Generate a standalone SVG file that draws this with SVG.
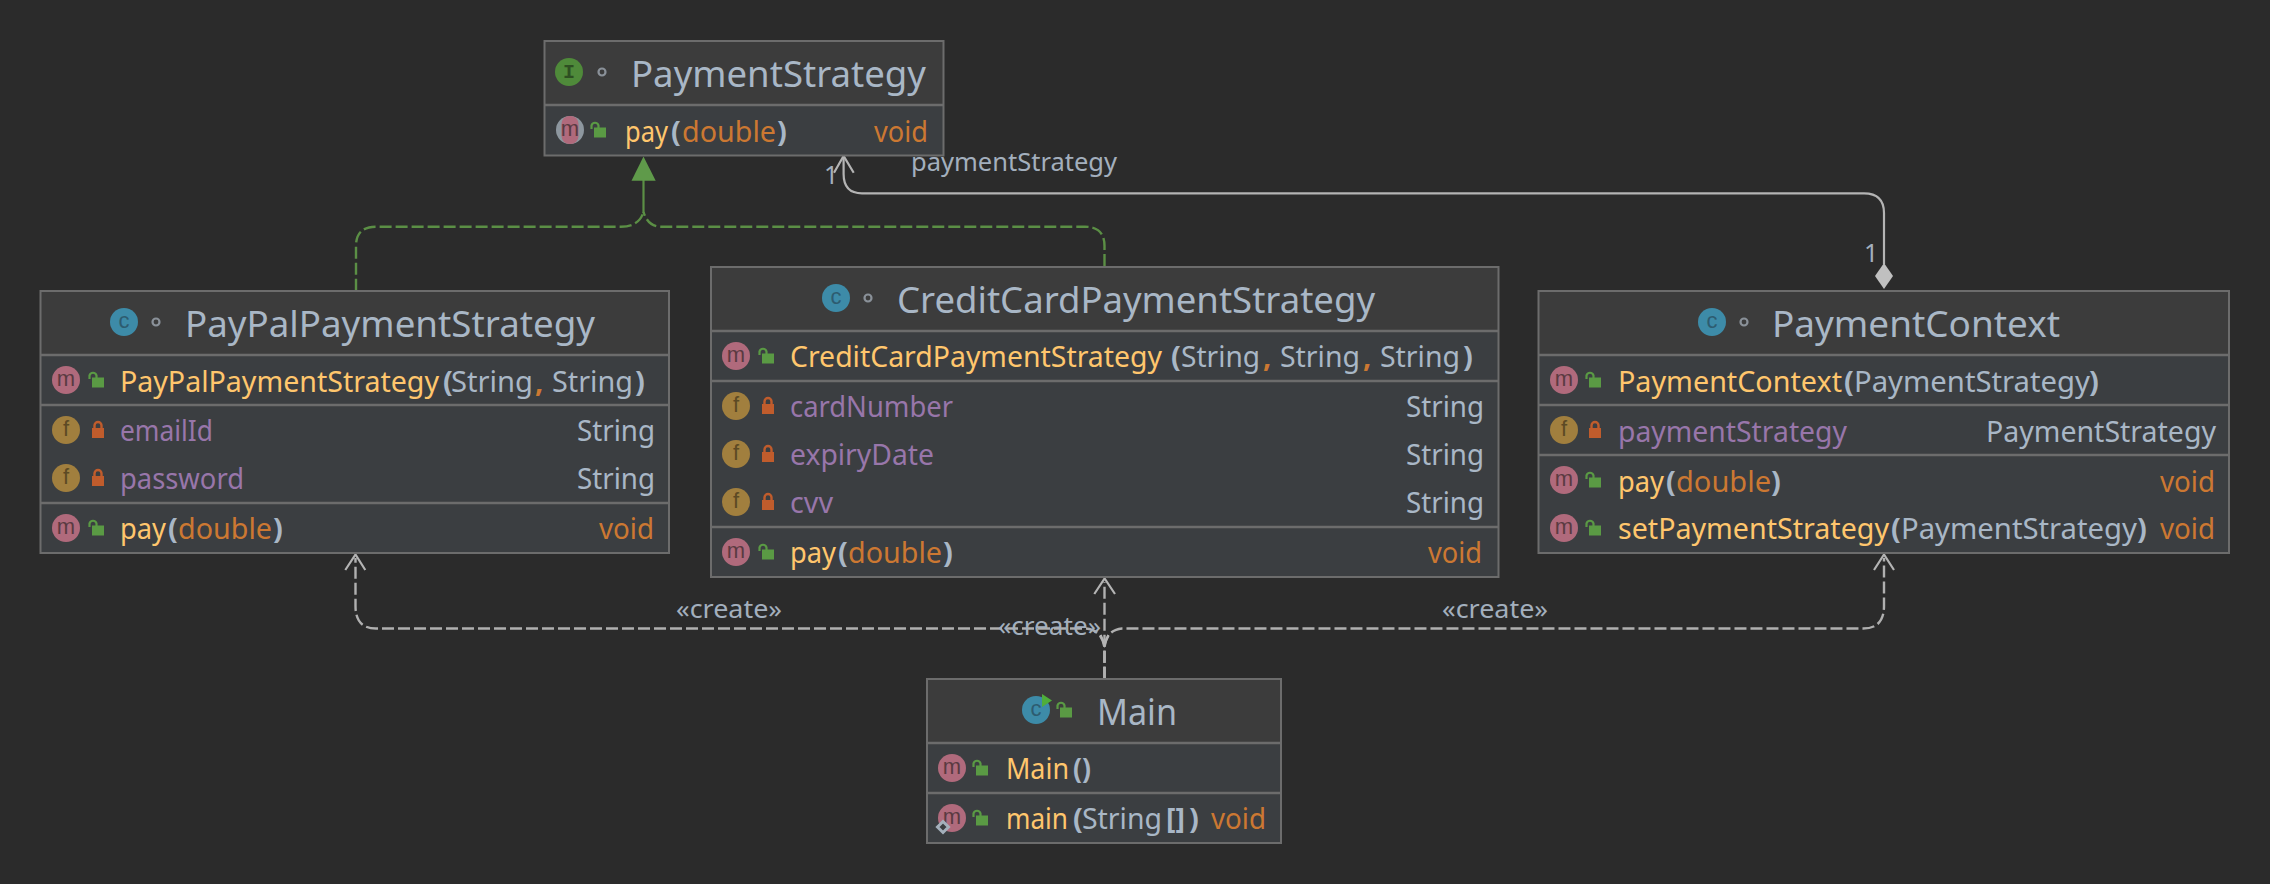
<svg xmlns="http://www.w3.org/2000/svg" width="2270" height="884" viewBox="0 0 2270 884">
<style>
text{font-family:"Noto Sans","Open Sans","Liberation Sans",sans-serif;font-size:29px}
.t{font-size:36px;fill:#a9b7c6}
.m{fill:#ffc66d}.p{fill:#a9b7c6}.k{fill:#cc7832}.f{fill:#9876aa}
.t,.m,.p,.k,.f{transform:translateX(-1px)}
.b{font-weight:700}
.l{font-size:25px;fill:#a3afbd}
.h{fill:#3c3c3c;stroke:none}
.body{fill:#3b3e41;stroke:none}
.o{fill:none;stroke:#6c6c6c;stroke-width:2}
.d{stroke:#6c6c6c;stroke-width:2.5}
.ic{font-family:"Liberation Sans",sans-serif;font-size:22px;text-anchor:middle}
.im{font-family:"Liberation Mono",monospace;font-weight:700}
.dep{fill:none;stroke:#b0b0b0;stroke-width:2.4;stroke-dasharray:12 4}
.asc{fill:none;stroke:#b4b4b4;stroke-width:2.2}
.rea{fill:none;stroke:#5b8f45;stroke-width:2.4;stroke-dasharray:12 4}
</style>
<defs>
<g id="lo"><rect x="-6" y="-2.5" width="12" height="10" fill="#5a9a44"/><path d="M-8.5 -1V-4.5A3.6 3.6 0 0 1 -1.5 -4.5V-2" fill="none" stroke="#5a9a44" stroke-width="2.2"/></g>
<g id="lc"><rect x="-6" y="-2" width="12" height="10" fill="#c05c2c"/><path d="M-3.5 -2V-4.5A3.5 3.5 0 0 1 3.5 -4.5V-2" fill="none" stroke="#c05c2c" stroke-width="2.4"/></g>
<circle id="cm" r="14" fill="#b06a7c"/>
<circle id="cf" r="14" fill="#a17f3e"/>
<circle id="cc" r="14" fill="#3d8ba8"/>
<circle id="dot" r="3.5" fill="none" stroke="#8a9199" stroke-width="2.2"/>
</defs>
<rect width="2270" height="884" fill="#2b2b2b"/>

<g id="connectors">
<path class="rea" d="M356 290.7V246Q356 226.7 376 226.7H621Q639 226.7 643.5 212"/>
<path class="rea" d="M1104.5 266V246Q1104.5 226.7 1085 226.7H661Q648 226.7 643.5 212"/>
<path d="M643.5 213V180" fill="none" stroke="#5b8f45" stroke-width="2.2"/>
<polygon points="643.5,156.5 631.5,180.7 655.7,180.7" fill="#5f9a4a"/>
<path class="asc" d="M1884 264V213Q1884 193.3 1864 193.3H862Q843.6 193.3 843.6 174V157"/>
<path class="asc" d="M834 172.7L843.6 156L853.7 172.7"/>
<polygon points="1884,263 1893,276 1884,289 1875,276" fill="#c0c0c0"/>
<path class="dep" d="M1104.5 678.7V648Q1102 630 1086 628.5H376Q355.5 628.5 355.5 606V558"/>
<path class="dep" d="M1104.5 678.7V648Q1106 630 1122 628.5H1863Q1884 628.5 1884 606V558"/>
<path class="dep" d="M1104.5 678.7V582"/>
<path class="asc" d="M345.3 570L355.5 554.5L365.3 570M1094.3 594L1104.6 578.5L1115 594M1874 570L1884 554.5L1894 570"/>
<path class="asc" d="M1100.7 635L1104.5 645L1108.3 635"/>
</g>

<g id="labels">
<text class="l" x="911" y="171" textLength="206" lengthAdjust="spacingAndGlyphs">paymentStrategy</text>
<text class="l" x="824" y="184">1</text>
<text class="l" x="1864" y="262">1</text>
<text class="l" x="676" y="618" textLength="106" lengthAdjust="spacingAndGlyphs">«create»</text>
<text class="l" x="998" y="635" textLength="103" lengthAdjust="spacingAndGlyphs">«create»</text>
<text class="l" x="1442" y="618" textLength="106" lengthAdjust="spacingAndGlyphs">«create»</text>
</g>

<g id="node-PaymentStrategy">
<rect class="h" x="544.5" y="41" width="399" height="64"/><rect class="body" x="544.5" y="105" width="399" height="50"/>
<path class="d" d="M545 105H943"/><rect class="o" x="544.5" y="41" width="399" height="114.5"/>
<circle cx="569" cy="72" r="14" fill="#4f8a3a"/><text class="ic im" x="569" y="78" fill="#2e4f22" style="font-family:'Liberation Mono',monospace;font-size:20px">I</text>
<use href="#dot" x="602" y="72"/>
<text class="t" x="632" y="87" textLength="295" lengthAdjust="spacingAndGlyphs">PaymentStrategy</text>
<circle cx="570" cy="130" r="14" fill="#8d979f"/><rect x="561.5" y="116" width="17" height="28" rx="8" fill="#b06a7c"/>
<text class="ic" x="570" y="136" fill="#5a3a42">m</text>
<use href="#lo" x="600" y="130"/>
<text class="m" x="626" y="142" textLength="43" lengthAdjust="spacingAndGlyphs">pay</text>
<text class="p b" x="672" y="142">(</text>
<text class="k" x="683" y="142" textLength="94" lengthAdjust="spacingAndGlyphs">double</text>
<text class="p b" x="778" y="142">)</text>
<text class="k" x="875" y="142" textLength="54" lengthAdjust="spacingAndGlyphs">void</text>
</g>

<g id="node-PayPalPaymentStrategy">
<rect class="h" x="40.5" y="291" width="628.5" height="64"/><rect class="body" x="40.5" y="355" width="628.5" height="198"/>
<path class="d" d="M41 355H669M41 405H669M41 503H669"/><rect class="o" x="40.5" y="291" width="628.5" height="262"/>
<use href="#cc" x="124" y="322"/><text class="ic" x="124" y="328" fill="#2d5c70">c</text>
<use href="#dot" x="156" y="322"/>
<text class="t" x="186" y="337" textLength="410" lengthAdjust="spacingAndGlyphs">PayPalPaymentStrategy</text>
<use href="#cm" x="66" y="380"/><text class="ic" x="66" y="386" fill="#5a3a42">m</text><use href="#lo" x="98" y="380"/>
<text class="m" x="121" y="392" textLength="319" lengthAdjust="spacingAndGlyphs">PayPalPaymentStrategy</text>
<text class="p b" x="444" y="392">(</text>
<text class="p" x="452" y="392" textLength="82" lengthAdjust="spacingAndGlyphs">String</text>
<text class="k b" x="536" y="392">,</text>
<text class="p" x="553" y="392" textLength="81" lengthAdjust="spacingAndGlyphs">String</text>
<text class="p b" x="636" y="392">)</text>
<use href="#cf" x="66" y="430"/><text class="ic" x="66" y="436" fill="#5c4a24">f</text><use href="#lc" x="98" y="430"/>
<text class="f" x="121" y="441" textLength="93" lengthAdjust="spacingAndGlyphs">emailId</text>
<text class="p" x="578" y="441" textLength="78" lengthAdjust="spacingAndGlyphs">String</text>
<use href="#cf" x="66" y="478"/><text class="ic" x="66" y="484" fill="#5c4a24">f</text><use href="#lc" x="98" y="478"/>
<text class="f" x="121" y="489" textLength="124" lengthAdjust="spacingAndGlyphs">password</text>
<text class="p" x="578" y="489" textLength="78" lengthAdjust="spacingAndGlyphs">String</text>
<use href="#cm" x="66" y="528"/><text class="ic" x="66" y="534" fill="#5a3a42">m</text><use href="#lo" x="98" y="528"/>
<text class="m" x="121" y="539" textLength="46" lengthAdjust="spacingAndGlyphs">pay</text>
<text class="p b" x="169" y="539">(</text>
<text class="k" x="179" y="539" textLength="94" lengthAdjust="spacingAndGlyphs">double</text>
<text class="p b" x="274" y="539">)</text>
<text class="k" x="600" y="539" textLength="55" lengthAdjust="spacingAndGlyphs">void</text>
</g>

<g id="node-CreditCardPaymentStrategy">
<rect class="h" x="711" y="267" width="787.5" height="64"/><rect class="body" x="711" y="331" width="787.5" height="246"/>
<path class="d" d="M711 331H1498M711 381H1498M711 527H1498"/><rect class="o" x="711" y="267" width="787.5" height="310"/>
<use href="#cc" x="836" y="298"/><text class="ic" x="836" y="304" fill="#2d5c70">c</text>
<use href="#dot" x="868" y="298"/>
<text class="t" x="898" y="313" textLength="478" lengthAdjust="spacingAndGlyphs">CreditCardPaymentStrategy</text>
<use href="#cm" x="736" y="356"/><text class="ic" x="736" y="362" fill="#5a3a42">m</text><use href="#lo" x="768" y="356"/>
<text class="m" x="791" y="367" textLength="372" lengthAdjust="spacingAndGlyphs">CreditCardPaymentStrategy</text>
<text class="p b" x="1172" y="367">(</text>
<text class="p" x="1182" y="367" textLength="79" lengthAdjust="spacingAndGlyphs">String</text>
<text class="k b" x="1264" y="367">,</text>
<text class="p" x="1281" y="367" textLength="80" lengthAdjust="spacingAndGlyphs">String</text>
<text class="k b" x="1364" y="367">,</text>
<text class="p" x="1381" y="367" textLength="80" lengthAdjust="spacingAndGlyphs">String</text>
<text class="p b" x="1464" y="367">)</text>
<use href="#cf" x="736" y="406"/><text class="ic" x="736" y="412" fill="#5c4a24">f</text><use href="#lc" x="768" y="406"/>
<text class="f" x="791" y="417" textLength="163" lengthAdjust="spacingAndGlyphs">cardNumber</text>
<text class="p" x="1407" y="417" textLength="78" lengthAdjust="spacingAndGlyphs">String</text>
<use href="#cf" x="736" y="454"/><text class="ic" x="736" y="460" fill="#5c4a24">f</text><use href="#lc" x="768" y="454"/>
<text class="f" x="791" y="465" textLength="144" lengthAdjust="spacingAndGlyphs">expiryDate</text>
<text class="p" x="1407" y="465" textLength="78" lengthAdjust="spacingAndGlyphs">String</text>
<use href="#cf" x="736" y="502"/><text class="ic" x="736" y="508" fill="#5c4a24">f</text><use href="#lc" x="768" y="502"/>
<text class="f" x="791" y="513" textLength="43" lengthAdjust="spacingAndGlyphs">cvv</text>
<text class="p" x="1407" y="513" textLength="78" lengthAdjust="spacingAndGlyphs">String</text>
<use href="#cm" x="736" y="552"/><text class="ic" x="736" y="558" fill="#5a3a42">m</text><use href="#lo" x="768" y="552"/>
<text class="m" x="791" y="563" textLength="46" lengthAdjust="spacingAndGlyphs">pay</text>
<text class="p b" x="839" y="563">(</text>
<text class="k" x="849" y="563" textLength="94" lengthAdjust="spacingAndGlyphs">double</text>
<text class="p b" x="944" y="563">)</text>
<text class="k" x="1429" y="563" textLength="54" lengthAdjust="spacingAndGlyphs">void</text>
</g>

<g id="node-PaymentContext">
<rect class="h" x="1538.5" y="291" width="690.5" height="64"/><rect class="body" x="1538.5" y="355" width="690.5" height="198"/>
<path class="d" d="M1539 355H2229M1539 405H2229M1539 455H2229"/><rect class="o" x="1538.5" y="291" width="690.5" height="262"/>
<use href="#cc" x="1712" y="322"/><text class="ic" x="1712" y="328" fill="#2d5c70">c</text>
<use href="#dot" x="1744" y="322"/>
<text class="t" x="1773" y="337" textLength="288" lengthAdjust="spacingAndGlyphs">PaymentContext</text>
<use href="#cm" x="1564" y="380"/><text class="ic" x="1564" y="386" fill="#5a3a42">m</text><use href="#lo" x="1595" y="380"/>
<text class="m" x="1619" y="392" textLength="224" lengthAdjust="spacingAndGlyphs">PaymentContext</text>
<text class="p b" x="1845" y="392">(</text>
<text class="p" x="1855" y="392" textLength="236" lengthAdjust="spacingAndGlyphs">PaymentStrategy</text>
<text class="p b" x="2090" y="392">)</text>
<use href="#cf" x="1564" y="430"/><text class="ic" x="1564" y="436" fill="#5c4a24">f</text><use href="#lc" x="1595" y="430"/>
<text class="f" x="1619" y="442" textLength="229" lengthAdjust="spacingAndGlyphs">paymentStrategy</text>
<text class="p" x="1987" y="442" textLength="230" lengthAdjust="spacingAndGlyphs">PaymentStrategy</text>
<use href="#cm" x="1564" y="480"/><text class="ic" x="1564" y="486" fill="#5a3a42">m</text><use href="#lo" x="1595" y="480"/>
<text class="m" x="1619" y="492" textLength="46" lengthAdjust="spacingAndGlyphs">pay</text>
<text class="p b" x="1667" y="492">(</text>
<text class="k" x="1677" y="492" textLength="95" lengthAdjust="spacingAndGlyphs">double</text>
<text class="p b" x="1772" y="492">)</text>
<text class="k" x="2161" y="492" textLength="55" lengthAdjust="spacingAndGlyphs">void</text>
<use href="#cm" x="1564" y="528"/><text class="ic" x="1564" y="534" fill="#5a3a42">m</text><use href="#lo" x="1595" y="528"/>
<text class="m" x="1619" y="539" textLength="271" lengthAdjust="spacingAndGlyphs">setPaymentStrategy</text>
<text class="p b" x="1892" y="539">(</text>
<text class="p" x="1902" y="539" textLength="236" lengthAdjust="spacingAndGlyphs">PaymentStrategy</text>
<text class="p b" x="2138" y="539">)</text>
<text class="k" x="2161" y="539" textLength="55" lengthAdjust="spacingAndGlyphs">void</text>
</g>

<g id="node-Main">
<rect class="h" x="927" y="679" width="354" height="64"/><rect class="body" x="927" y="743" width="354" height="100"/>
<path class="d" d="M927 743H1281M927 793H1281"/><rect class="o" x="927" y="679" width="354" height="164"/>
<use href="#cc" x="1036" y="710"/><text class="ic" x="1036" y="716" fill="#2d5c70">c</text>
<polygon points="1042,694 1052,700.5 1042,707" fill="#4fae3a"/>
<use href="#lo" x="1066" y="710"/>
<text class="t" x="1098" y="725" textLength="80" lengthAdjust="spacingAndGlyphs">Main</text>
<use href="#cm" x="952" y="768"/><text class="ic" x="952" y="774" fill="#5a3a42">m</text><use href="#lo" x="982" y="768"/>
<text class="m" x="1007" y="779" textLength="63" lengthAdjust="spacingAndGlyphs">Main</text>
<text class="p b" x="1074" y="779" textLength="18" lengthAdjust="spacingAndGlyphs">()</text>
<use href="#cm" x="952" y="818"/><text class="ic" x="952" y="824" fill="#5a3a42">m</text><use href="#lo" x="982" y="818"/>
<polygon points="943,821.5 948.5,827 943,832.5 937.5,827" fill="#3b3e41" stroke="#a4b0bb" stroke-width="3"/>
<text class="m" x="1007" y="829" textLength="62" lengthAdjust="spacingAndGlyphs">main</text>
<text class="p b" x="1074" y="829">(</text>
<text class="p" x="1083" y="829" textLength="80" lengthAdjust="spacingAndGlyphs">String</text>
<text class="p b" x="1167" y="829" textLength="19" lengthAdjust="spacingAndGlyphs">[]</text>
<text class="p b" x="1190" y="829">)</text>
<text class="k" x="1212" y="829" textLength="55" lengthAdjust="spacingAndGlyphs">void</text>
</g>
</svg>
